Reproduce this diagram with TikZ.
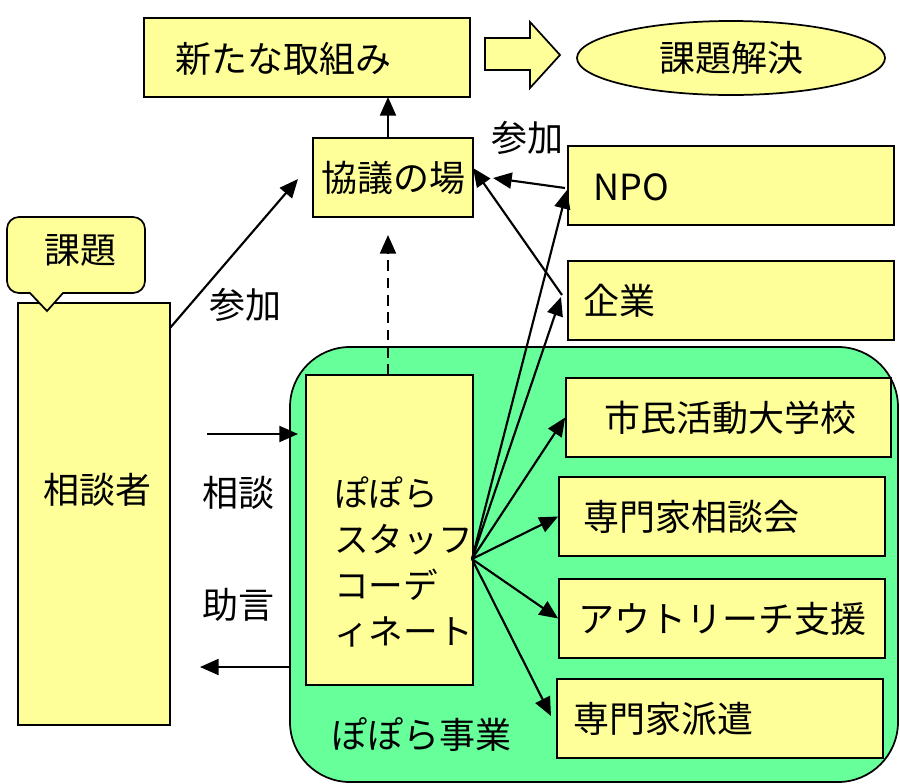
\documentclass[tikz,border=0pt]{standalone}
\usepackage{fontspec}
\setmainfont{Noto Sans CJK JP}
\usetikzlibrary{shapes.geometric,arrows.meta}
\definecolor{boxyellow}{RGB}{255,255,153}
\definecolor{regiongreen}{RGB}{102,255,153}
\tikzset{
  box/.style={draw=black, line width=1.3pt, fill=boxyellow, inner sep=0pt},
  txt/.style={inner sep=0pt, font=\fontsize{27pt}{32pt}\selectfont},
  conn/.style={line width=1.6pt, -{Triangle[length=14pt,width=12pt]}},
}
\begin{document}
\begin{tikzpicture}[x=0.75pt,y=-0.75pt]
\useasboundingbox (0,0) rectangle (900,783);
% green region
\draw[line width=1.3pt, fill=regiongreen, rounded corners=45pt] (290,347) rectangle (898,782);
% boxes
\node[box, minimum width=244.5pt, minimum height=59.25pt] (new) at (307,57.5) {};
\node[txt, anchor=west] (newt) at (175,59) {新たな取組み};
\draw[box] (485,38) -- (530,38) -- (530,22) -- (560,55) -- (530,88) -- (530,70) -- (485,70) -- cycle;
\node[box, ellipse, minimum width=231pt, minimum height=55.5pt] (goal) at (731,58) {};
\node[txt] (goalt) at (731,58) {課題解決};
\node[box, minimum width=120pt, minimum height=59.25pt] (kyogi) at (393,177.5) {};
\node[txt] (kyogit) at (393,177.5) {協議の場};
\node[box, minimum width=244.5pt, minimum height=59.25pt] (npo) at (731,185.5) {};
\node[txt, anchor=west] (npot) at (593,187) {NPO};
\node[box, minimum width=244.5pt, minimum height=59.25pt] (kigyo) at (731,300.5) {};
\node[txt, anchor=west] (kigyot) at (583,300.5) {企業};
\node[box, minimum width=243.75pt, minimum height=59.25pt] (shimin) at (728.5,417.5) {};
\node[txt] (shimint) at (730,417.5) {市民活動大学校};
\node[box, minimum width=244.5pt, minimum height=59.25pt] (soudankai) at (722,516.5) {};
\node[txt, anchor=west] (soudankait) at (583,516.5) {専門家相談会};
\node[box, minimum width=244.5pt, minimum height=59.25pt] (outreach) at (722,618.5) {};
\node[txt, anchor=west] (outreacht) at (578,618.5) {アウトリーチ支援};
\node[box, minimum width=244.5pt, minimum height=59.25pt] (haken) at (720,718.5) {};
\node[txt, anchor=west] (hakent) at (573,718.5) {専門家派遣};
\node[box, minimum width=125.25pt, minimum height=232.5pt] (staff) at (389.5,530) {};
\node[txt, anchor=west, align=left, font=\fontsize{26pt}{34.5pt}\selectfont] (stafft) at (334,562) {ぽぽら\\スタッフ\\コーデ\\ィネート};
\node[box, minimum width=114pt, minimum height=316.5pt] (soudansha) at (94,514) {};
\node[txt] (soudanshat) at (97,490) {相談者};
% callout
\draw[box] (47,311) -- (63,293) [rounded corners=9pt] -- (145,293) -- (145,217) -- (7,217) -- (7,293) [sharp corners] -- (30,293) -- cycle;
\node[txt] (kadai) at (80,250) {課題};
% labels
\node[txt] (sanka1) at (527,138) {参加};
\node[txt] (sanka2) at (245,305) {参加};
\node[txt] (soudan) at (238,493) {相談};
\node[txt] (jogen) at (238,605) {助言};
\node[txt] (popojigyo) at (421,735) {ぽぽら事業};
% coordinates
\coordinate (fan) at (472,559);
\coordinate (newin) at (388,97);
\coordinate (kyout) at (388,138);
\coordinate (dashtip) at (388,235);
\coordinate (dashbase) at (388,375);
\coordinate (s1) at (170,328);
\coordinate (k1) at (298,179);
\coordinate (n1) at (565,188);
\coordinate (k2) at (493,178);
\coordinate (g1) at (562,295);
\coordinate (k3) at (473,168);
\coordinate (n2) at (567,190);
\coordinate (g2) at (561,297);
\coordinate (h1) at (551,716);
\coordinate (c1) at (207,434);
\coordinate (c2) at (298,434);
\coordinate (j1) at (290,667);
\coordinate (j2) at (200,667);
% connectors
\draw[conn] (kyout) -- (newin);
\draw[conn, dash pattern=on 8pt off 5pt] (dashbase) -- (dashtip);
\draw[conn] (s1) -- (k1);
\draw[conn] (n1) -- (k2);
\draw[conn] (g1) -- (k3);
\draw[conn] (fan) -- (n2);
\draw[conn] (fan) -- (g2);
\draw[conn] (fan) -- (shimin.west);
\draw[conn] (fan) -- (soudankai.west);
\draw[conn] (fan) -- (outreach.west);
\draw[conn] (fan) -- (h1);
\draw[conn] (c1) -- (c2);
\draw[conn] (j1) -- (j2);
\end{tikzpicture}
\end{document}
